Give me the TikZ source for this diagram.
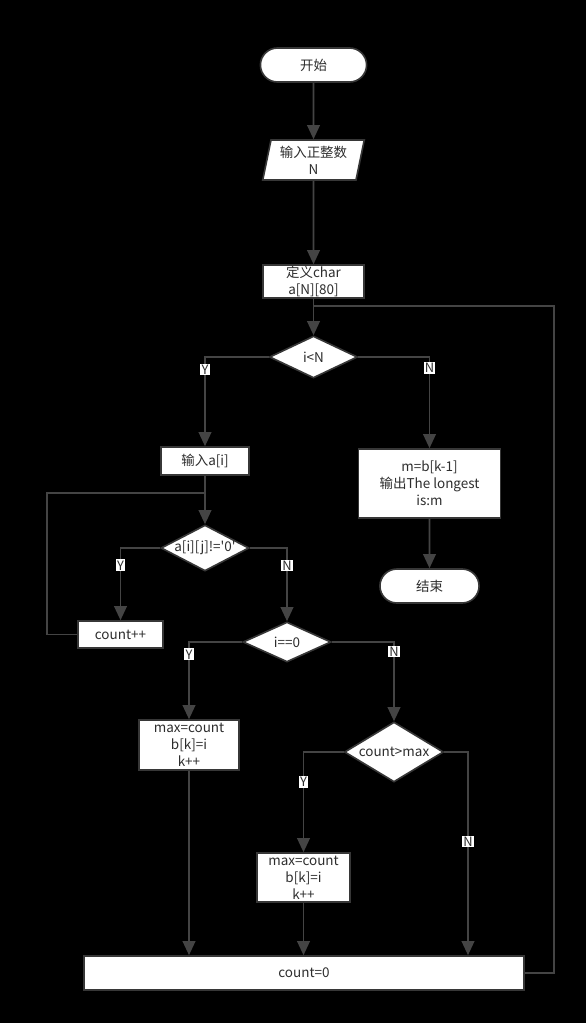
\documentclass[tikz,border=0pt]{standalone}
\usepackage{fontspec}
\newfontfamily\cjk{Noto Sans CJK SC}
\usetikzlibrary{positioning, arrows.meta, shapes.geometric, shapes.misc, calc}
\definecolor{edge}{RGB}{68,68,68}
\definecolor{bord}{RGB}{55,55,55}
\definecolor{txt}{RGB}{45,45,45}

\begin{document}
\begin{tikzpicture}[x=0.03cm, y=-0.03cm,
    every node/.style={font=\cjk\fontsize{11.5}{14.5}\selectfont, text=txt},
    term/.style={rounded rectangle, draw=bord, line width=1.4pt, fill=white, minimum width=3.42cm, minimum height=1.02cm},
    io/.style={trapezium, trapezium left angle=77, trapezium right angle=103, trapezium stretches=true, draw=bord, line width=1.4pt, fill=white, minimum width=3.06cm, minimum height=1.2cm, align=center, inner sep=0pt},
    proc/.style={rectangle, draw=bord, line width=1.4pt, fill=white, align=center, inner sep=0pt},
    dec/.style={diamond, draw=bord, line width=1.4pt, fill=white, inner sep=0pt, minimum width=2.64cm},
    yn/.style={fill=white, inner sep=1pt, font=\cjk\fontsize{11}{13}\selectfont},
    link/.style={draw=edge, line width=1.4pt},
    arrow/.style={link, -{Triangle[length=4.2mm, width=3.8mm]}}]

  \fill[black] (0,0) rectangle (586,1023);

  \node[term] (start) at (313.5,65) {开始};
  \node[io] (inN) at (313.5,160) {输入正整数\\N};
  \node[proc, minimum width=3.03cm, minimum height=0.99cm] (def) at (313.5,281.5) {定义char\\a[N][80]};
  \node[dec, minimum height=1.26cm] (dN) at (313.5,357) {\makebox[0pt]{i<N}};
  \node[proc, minimum width=2.64cm, minimum height=0.84cm] (inA) at (205,461) {输入a[i]};
  \node[proc, minimum width=4.26cm, minimum height=2.07cm] (out) at (429.5,483.5) {m=b[k-1]\\输出The longest\\is:m};
  \node[term, minimum width=3.21cm] (stop) at (429.5,586) {结束};
  \node[dec, minimum height=1.38cm] (dA) at (205,548) {\makebox[0pt]{a[i][j]!='0'}};
  \node[proc, minimum width=2.55cm, minimum height=0.81cm] (inc) at (120.5,634.5) {count++};
  \node[dec, minimum height=1.2cm] (dZ) at (287,642) {\makebox[0pt]{i==0}};
  \node[proc, minimum width=3cm, minimum height=1.5cm] (upd1) at (189,745) {max=count\\b[k]=i\\k++};
  \node[dec, minimum width=2.97cm, minimum height=1.8cm] (dM) at (394,752) {\makebox[0pt]{count>max}};
  \node[proc, minimum width=2.79cm, minimum height=1.47cm] (upd2) at (303.5,877.5) {max=count\\b[k]=i\\k++};
  \node[proc, minimum width=13.2cm, minimum height=1.02cm] (reset) at (304,973) {count=0};

  \coordinate (back1) at (205,493);
  \coordinate (back2) at (313.5,306);

  \draw[arrow] (start) -- (inN);
  \draw[arrow] (inN) -- (def);
  \draw[arrow] (def) -- (dN);
  \draw[arrow] (dN.west) -| node[yn, pos=0.57]{Y} (inA.north);
  \draw[arrow] (dN.east) -| node[yn, pos=0.56]{N} (out.north);
  \draw[arrow] (out) -- (stop);
  \draw[arrow] (inA) -- (dA);
  \draw[arrow] (dA.west) -| node[yn, pos=0.62]{Y} (inc.north);
  \draw[arrow] (dA.east) -| node[yn, pos=0.62]{N} (dZ.north);
  \draw[arrow] (dZ.west) -| node[yn, pos=0.58]{Y} (upd1.north);
  \draw[arrow] (dZ.east) -| node[yn, pos=0.56]{N} (dM.north);
  \draw[arrow] (dM.west) -| node[yn, pos=0.65]{Y} (upd2.north);
  \draw[arrow] (dM.east) -| node[yn, pos=0.72]{N} ($(reset.north)+(164,0)$);
  \draw[arrow] (upd1.south) -- (upd1.south |- reset.north);
  \draw[arrow] (upd2.south) -- (upd2.south |- reset.north);
  \draw[link] (inc.west) -- ++(-30,0) |- (back1);
  \draw[link] (reset.east) -- ++(29,0) |- (back2);
\end{tikzpicture}
\end{document}
